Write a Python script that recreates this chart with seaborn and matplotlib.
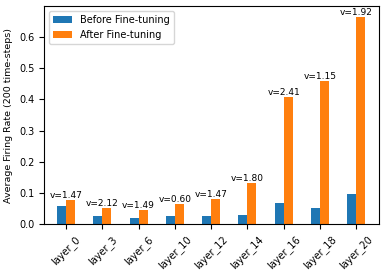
import pandas as pd
import matplotlib
matplotlib.use("Agg")
import matplotlib.pyplot as plt
import seaborn as sns

layers = ["layer_0", "layer_3", "layer_6", "layer_10", "layer_12",
          "layer_14", "layer_16", "layer_18", "layer_20"]
before = [0.058, 0.026, 0.019, 0.026, 0.026, 0.029, 0.067, 0.051, 0.096]
after = [0.077, 0.052, 0.045, 0.064, 0.080, 0.131, 0.407, 0.458, 0.663]
ratio_labels = ["v=1.47", "v=2.12", "v=1.49", "v=0.60", "v=1.47",
                "v=1.80", "v=2.41", "v=1.15", "v=1.92"]

plt.rcParams['font.size'] = 7

df = pd.DataFrame({
    "layer": layers * 2,
    "rate": before + after,
    "stage": ["Before Fine-tuning"] * len(layers) + ["After Fine-tuning"] * len(layers),
})

fig, ax = plt.subplots(figsize=(3.86, 2.76), dpi=100)
sns.barplot(data=df, x="layer", y="rate", hue="stage",
            palette=["#1f77b4", "#ff7f0e"], saturation=1, width=0.5,
            linewidth=0, errorbar=None, ax=ax)

for i, (v, lab) in enumerate(zip(after, ratio_labels)):
    ax.text(i, v, lab, ha="center", va="bottom", fontsize=6.5)

ax.set_xlim(-0.61, 8.63)
ax.set_ylim(0, 0.699)
ax.set_xlabel("")
ax.set_ylabel("Average Firing Rate (200 time-steps)", fontsize=6.8)
ax.tick_params(axis="both", labelsize=7)
ax.tick_params(axis="x", rotation=45)
ax.legend(title=None, loc="upper left", fontsize=7)

plt.subplots_adjust(left=0.114, right=0.982, top=0.978, bottom=0.188)
plt.savefig("out.png")
